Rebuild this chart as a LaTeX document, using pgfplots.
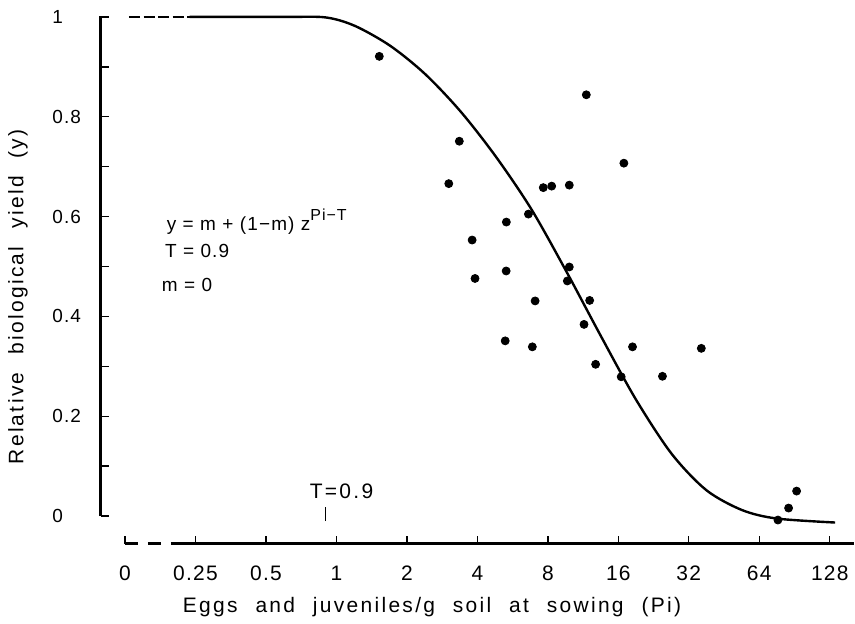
\documentclass[border=0pt]{standalone}
\usepackage{fontspec}
\setmainfont[LetterSpace=6]{Liberation Sans}
\newfontfamily\widefont[LetterSpace=11,WordSpace=2.2]{Liberation Sans}
\usepackage{pgfplots}
\pgfplotsset{compat=1.18}

\begin{document}
\begin{tikzpicture}
\begin{axis}[
  scale only axis, width=377pt, height=264.5pt,
  xmode=log, log basis x=2,
  xmin=0.0986, xmax=161.7,
  ymin=-0.056, ymax=1.002,
  axis lines*=left,
  axis line style={draw=none},
  clip=false,
  tick align=inside,
  major tick length=4pt, minor tick length=4pt,
  every tick/.style={black, line width=0.7pt},
  xminorticks=false,
  xtick={0.125,0.25,0.5,1,2,4,8,16,32,64,128},
  xticklabels={0,0.25,0.5,1,2,4,8,16,32,64,128},
  ytick={0,0.2,0.4,0.6,0.8,1},
  yticklabels={0,0.2,0.4,0.6,0.8,1},
  minor ytick={0.1,0.3,0.5,0.7,0.9},
  /pgf/number format/assume math mode=true,
  xticklabel style={font=\fontsize{10.5}{12}\selectfont, inner sep=0pt, anchor=north, yshift=-11pt},
  yticklabel style={font=\fontsize{9.5}{11}\selectfont, inner sep=0pt, anchor=west, xshift=-24.5pt},
  xlabel={Eggs and juveniles/g soil at sowing (Pi)},
  xlabel style={font=\widefont\fontsize{10.5}{12}\selectfont, inner sep=0pt,
    at={(rel axis cs:0.44,-0.1)}, anchor=north},
  ylabel={Relative biological yield (y)},
  ylabel style={font=\widefont\fontsize{10.5}{12}\selectfont, inner sep=0pt,
    at={(rel axis cs:-0.0967,0.468)}, anchor=south},
]
% model curve, flat part dashed below the lowest density
\addplot[black, line width=1.2pt, dash pattern=on 5.5pt off 1.8pt] coordinates {(0.130,1) (0.236,1)};
\addplot[black, line width=1.2pt, smooth] coordinates {
  (0.236,1) (0.6,1) (0.9,0.999) (1.2,0.982) (1.7,0.942) (2.4,0.885)
  (3.4,0.81) (4.8,0.72) (6.8,0.615) (9.6,0.49) (13.5,0.36) (19,0.234)
  (27,0.125) (38,0.052) (54,0.012) (76,-0.005) (135,-0.013)};
% observations
\addplot[only marks, mark=*, mark size=2pt, black] coordinates {
  (1.525,0.921) (3.35,0.751) (3.02,0.666) (11.68,0.844) (16.9,0.707)
  (7.65,0.658) (8.31,0.661) (9.88,0.663) (6.61,0.605) (5.32,0.589)
  (3.80,0.553) (9.88,0.499) (3.91,0.476) (5.31,0.491) (9.69,0.471)
  (7.06,0.431) (12.07,0.432) (11.42,0.384) (5.26,0.351) (6.87,0.339)
  (18.4,0.339) (36.2,0.336) (12.8,0.304) (16.46,0.279) (24.7,0.280)
  (76.9,-0.008) (85.4,0.016) (92.4,0.050)};
% axis lines
\draw[line width=1.6pt] (axis cs:0.0986,0) -- (axis cs:0.0986,1.002);
\draw[line width=1.5pt, dash pattern=on 6.5pt off 5pt] (axis cs:0.125,-0.056) -- (axis cs:0.198,-0.056);
\draw[line width=1.5pt] (axis cs:0.198,-0.056) -- (axis cs:161.7,-0.056);
% threshold mark
\draw[line width=0.7pt] (axis cs:0.9,-0.01) -- (axis cs:0.9,0.018);
\node[anchor=base west, inner sep=0pt, font=\widefont\fontsize{10.5}{12}\selectfont] at (axis cs:0.767,0.036) {T=0.9};
% model text
\node[anchor=base west, inner sep=0pt, font=\fontsize{9.5}{11}\selectfont] at (axis cs:0.188,0.572)
  {y = m + (1−m) z\raisebox{5pt}{\fontsize{8}{9}\selectfont Pi−T}};
\node[anchor=base west, inner sep=0pt, font=\fontsize{9.5}{11}\selectfont] at (axis cs:0.1847,0.518) {T = 0.9};
\node[anchor=base west, inner sep=0pt, font=\fontsize{9.5}{11}\selectfont] at (axis cs:0.179,0.4506) {m = 0};
% page extent
\path (rel axis cs:-0.134,1.0302) (rel axis cs:1,-0.1512);
\end{axis}
\end{tikzpicture}
\end{document}
